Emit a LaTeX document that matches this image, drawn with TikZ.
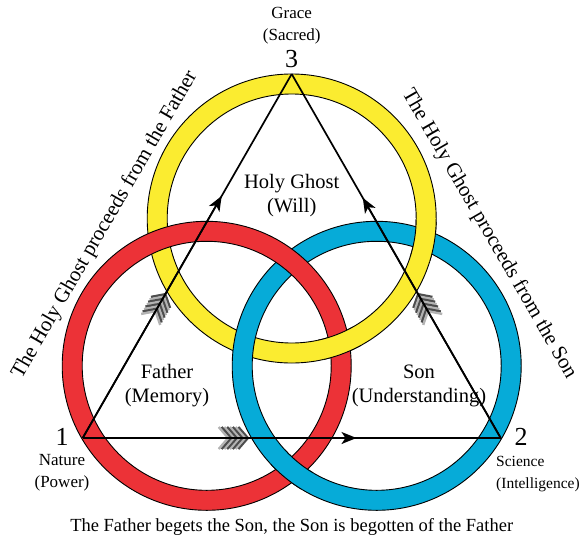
\documentclass[tikz,border=0pt]{standalone}
\usepackage{fontspec}
\setmainfont{Liberation Serif}
\usetikzlibrary{arrows.meta,calc}
\definecolor{ringred}{HTML}{EC3237}
\definecolor{ringyellow}{HTML}{FBEC30}
\definecolor{ringblue}{HTML}{06ABD8}
\definecolor{featherdark}{HTML}{4D4D4D}
\definecolor{featherlight}{HTML}{B3B3B3}
\newcommand\ringdraw[2]{%
  \fill[#2,even odd rule] (#1) circle[radius=144.5pt] (#1) circle[radius=124.5pt];
  \draw[ringedge] (#1) circle[radius=144.5pt] (#1) circle[radius=124.5pt];}
\newcommand\ringpatch[4]{%
  \begin{scope}
  \clip (#3,#4) circle[radius=22pt];
  \ringdraw{#1}{#2}
  \end{scope}}
\newcommand\featherat[2]{%
  \begin{scope}[shift={(#1)},rotate=#2]
  \foreach \i/\c in {0/featherdark,1/featherlight,2/featherdark,3/featherlight,4/featherdark,5/featherlight,6/featherdark,7/featherlight}{
    \draw[\c,line width=2.4pt,line join=miter,line cap=butt] (-\i*2.8-9.5,-11) -- (-\i*2.8,0) -- (-\i*2.8-9.5,11);
  }
  \end{scope}}
\begin{document}
\begin{tikzpicture}[x=1pt,y=-1pt,
  ringedge/.style={draw=black,line width=0.9pt},
  tri/.style={line width=1.7pt,draw=black},
  tipped/.style={tri,-{Stealth[length=15pt,width=12pt,inset=4pt]}},
  biglab/.style={font=\fontsize{20.5}{24}\selectfont,align=center,inner sep=0pt},
  smalllab/.style={font=\fontsize{17}{22}\selectfont,align=center,inner sep=0pt},
  scilab/.style={font=\fontsize{15.5}{22}\selectfont,align=left,inner sep=0pt},
  numlab/.style={font=\fontsize{26}{26}\selectfont,inner sep=0pt},
  sidelab/.style={font=\fontsize{21}{24}\selectfont,inner sep=0pt},
  bottomlab/.style={font=\fontsize{18.5}{22}\selectfont,inner sep=0pt}]
\useasboundingbox (0,0) rectangle (580,541);
% ring centres
\coordinate (cy) at (291.7,218.5);
\coordinate (cr) at (206.7,365.8);
\coordinate (cb) at (376.7,365.8);
% triangle vertices
\coordinate (v1) at (82.7,438);
\coordinate (v2) at (500.7,438);
\coordinate (v3) at (291.7,74);
% rings
\ringdraw{cy}{ringyellow}
\ringdraw{cb}{ringblue}
\ringdraw{cr}{ringred}
% over-crossings fixed
\ringpatch{cy}{ringyellow}{339.4}{344.3}
\ringpatch{cy}{ringyellow}{424.4}{240.0}
\ringpatch{cb}{ringblue}{291.7}{470.0}
% feathers
\featherat{$(v1)!0.395!(v2)$}{0}
\featherat{$(v1)!0.395!(v3)$}{60}
\featherat{$(v2)!0.395!(v3)$}{120}
% triangle
\draw[tri] (v1) -- (v2);
\draw[tri] (v1) -- (v3);
\draw[tri] (v2) -- (v3);
\draw[tipped] (v1) -- ($(v1)!0.655!(v2)$);
\draw[tipped] (v1) -- ($(v1)!0.665!(v3)$);
\draw[tipped] (v2) -- ($(v2)!0.66!(v3)$);
% labels
\node[smalllab] (grace) at (291.7,26) {Grace\\(Sacred)};
\node[numlab] (n3) at (291.7,59) {3};
\node[biglab] (hg) at (291.7,196) {Holy Ghost\\(Will)};
\node[biglab] (fa) at (167,386) {Father\\(Memory)};
\node[biglab] (so) at (419,386) {Son\\(Understanding)};
\node[numlab] (n1) at (62,437) {1};
\node[numlab] (n2) at (521,437) {2};
\node[smalllab] (na) at (62,473) {Nature\\(Power)};
\node[scilab,anchor=west] (sc) at (496,474) {Science\\(Intelligence)};
\node[sidelab,rotate=60] (lt) at (105,225) {The Holy Ghost proceeds from the Father};
\node[sidelab,rotate=-60] (rt) at (489,234) {The Holy Ghost proceeds from the Son};
\node[bottomlab] (bt) at (291.7,527) {The Father begets the Son, the Son is begotten of the Father};
\end{tikzpicture}
\end{document}
